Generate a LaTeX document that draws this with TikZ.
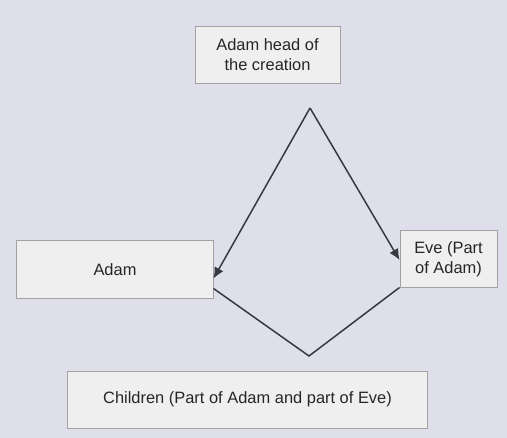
\documentclass[tikz,border=0pt]{standalone}
\usepackage{fontspec}
\setmainfont{Liberation Sans}
\usetikzlibrary{arrows.meta}
\definecolor{bgcol}{HTML}{DFDFEC}
\definecolor{boxfill}{HTML}{EFEFEF}
\definecolor{boxline}{HTML}{A2A2A2}
\definecolor{linkcol}{HTML}{38383F}
\begin{document}
\begin{tikzpicture}[x=1bp, y=-1bp,
      every node/.append style={font=\fontsize{16.5}{20}\selectfont, text=black!85},
      entity/.style={draw=boxline, fill=boxfill, line width=1bp, inner sep=0pt, align=center},
      link/.style={draw=linkcol, line width=1.5bp},
      arrowlink/.style={link, -{Latex[length=11bp, width=10bp]}}]
    \fill[bgcol] (0,0) rectangle (507,438);
    \node (HEAD) [entity, minimum width=145bp, minimum height=57bp] at (267.5,55) {Adam head of\\the creation};
    \node (ADAM) [entity, minimum width=196bp, minimum height=57bp] at (115,269.5) {Adam};
    \node (EVE) [entity, minimum width=97bp, minimum height=56bp] at (448.5,259) {Eve (Part\\of Adam)};
    \node (KIDS) [entity, minimum width=359bp, minimum height=57bp] at (247.5,399.5) {Children (Part of Adam and part of Eve)};
    \coordinate (TOP) at (310,108);
    \coordinate (BOTTOM) at (309,356);
    \draw [arrowlink] (TOP) -- ([yshift=-9bp]ADAM.east);
    \draw [arrowlink] (TOP) -- ([yshift=-1bp]EVE.west);
    \draw [link] ([yshift=10bp]ADAM.south east) -- (BOTTOM) -- (EVE.south west);
  \end{tikzpicture}
\end{document}
